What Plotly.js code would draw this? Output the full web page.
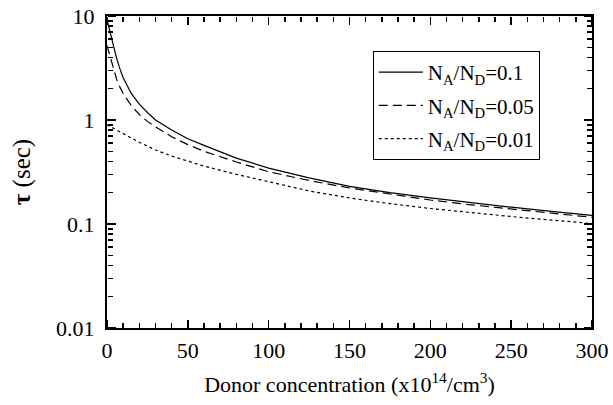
<!DOCTYPE html>
<html>
<head>
<meta charset="utf-8">
<script src="https://cdn.plot.ly/plotly-3.0.1.min.js"></script>
<style>html,body{margin:0;padding:0;background:#fff;}#chart{width:613px;height:405px;}</style>
</head>
<body>
<div id="chart"></div>
<script>
const donorConc = [0, 2, 4, 6, 8, 10, 15, 20, 25, 30, 40, 50, 60, 80, 100, 125, 150, 175, 200, 225, 250, 275, 300];
const tauRatio010 = [9.2, 6.8, 5.0, 3.9, 3.1, 2.55, 1.8, 1.42, 1.18, 1.0, 0.80, 0.66, 0.57, 0.43, 0.345, 0.278, 0.23, 0.2, 0.178, 0.160, 0.145, 0.132, 0.121];
const tauRatio005 = [5.2, 4.0, 3.1, 2.45, 2.07, 1.8, 1.38, 1.13, 0.97, 0.86, 0.69, 0.58, 0.50, 0.395, 0.318, 0.262, 0.222, 0.193, 0.170, 0.153, 0.139, 0.127, 0.116];
const tauRatio001 = [0.9, 0.86, 0.83, 0.80, 0.77, 0.74, 0.67, 0.61, 0.56, 0.515, 0.45, 0.40, 0.36, 0.30, 0.255, 0.208, 0.178, 0.157, 0.141, 0.128, 0.118, 0.109, 0.101];
const seriesNames = ['N<sub>A</sub>/N<sub>D</sub>=0.1', 'N<sub>A</sub>/N<sub>D</sub>=0.05', 'N<sub>A</sub>/N<sub>D</sub>=0.01'];
const yTickVals = [0.01, 0.1, 1, 10];
const yTickText = ['0.01', '0.1', '1', '10'];
const yMinorVals = [0.02, 0.03, 0.04, 0.05, 0.06, 0.07, 0.08, 0.09, 0.2, 0.3, 0.4, 0.5, 0.6, 0.7, 0.8, 0.9, 2, 3, 4, 5, 6, 7, 8, 9];
const xTickVals = [0, 50, 100, 150, 200, 250, 300];
const xRange = [0, 300];
const yRangeLog = [-2, 1];

const font = 'Liberation Serif';
const traces = [
  {x: donorConc, y: tauRatio010, name: seriesNames[0], legendgroup: 'a', mode: 'lines', line: {color: 'black', width: 1.2, dash: 'solid'}},
  {x: donorConc, y: tauRatio005, name: seriesNames[1], legendgroup: 'b', mode: 'lines', line: {color: 'black', width: 1.2, dash: '9px,5px'}},
  {x: donorConc, y: tauRatio001, name: seriesNames[2], legendgroup: 'c', mode: 'lines', line: {color: 'black', width: 1.2, dash: '3px,3px'}},
  // invisible carriers so the tick-only frame axes are drawn
  {x: donorConc, y: tauRatio010, xaxis: 'x2', yaxis: 'y2', mode: 'lines', opacity: 0, showlegend: false, hoverinfo: 'skip', line: {color: 'white', width: 1}},
  {x: donorConc, y: tauRatio010, xaxis: 'x3', yaxis: 'y3', mode: 'lines', opacity: 0, showlegend: false, hoverinfo: 'skip', line: {color: 'white', width: 1}}
];
function tickAxisX(side, pos, overlay) {
  return {overlaying: overlay, anchor: 'free', position: pos, side: side, range: xRange,
    showgrid: false, zeroline: false, showline: false, showticklabels: false,
    ticks: 'outside', ticklen: 8, tickwidth: 1.5, tickcolor: 'black', tickmode: 'array', tickvals: xTickVals,
    minor: {tickmode: 'linear', tick0: 0, dtick: 10, ticks: 'outside', ticklen: 5, tickwidth: 1.5, tickcolor: 'black', showgrid: false}};
}
function tickAxisY(side, pos, overlay) {
  return {overlaying: overlay, anchor: 'free', position: pos, side: side, type: 'log', range: yRangeLog,
    showgrid: false, zeroline: false, showline: false, showticklabels: false,
    ticks: 'outside', ticklen: 8, tickwidth: 1.5, tickcolor: 'black', tickmode: 'array', tickvals: yTickVals,
    minor: {tickmode: 'array', tickvals: yMinorVals, ticks: 'outside', ticklen: 5, tickwidth: 1.5, tickcolor: 'black', showgrid: false}};
}
const layout = {
  width: 613, height: 405,
  margin: {l: 107, r: 21, t: 16, b: 77},
  paper_bgcolor: 'white', plot_bgcolor: 'white',
  font: {family: font, color: 'black', size: 20},
  showlegend: true,
  legend: {x: 0.548, y: 0.888, xanchor: 'left', yanchor: 'top', bgcolor: 'white', bordercolor: 'black', borderwidth: 1,
           font: {family: font, size: 21, color: 'black'}, tracegroupgap: 3, itemwidth: 44},
  xaxis: {
    showgrid: false, zeroline: false, showline: true, linecolor: 'black', linewidth: 2,
    mirror: true, ticks: 'inside', ticklen: 8, tickwidth: 1.5, tickcolor: 'black',
    tickfont: {family: font, size: 22, color: 'black'}, ticklabelstandoff: 2,
    range: xRange, tickmode: 'array', tickvals: xTickVals,
    title: {text: 'Donor concentration (x10<sup>14</sup>/cm<sup>3</sup>)', font: {family: font, size: 22, color: 'black'}, standoff: 14}
  },
  yaxis: {
    showgrid: false, zeroline: false, showline: true, linecolor: 'black', linewidth: 2,
    mirror: true, ticks: 'inside', ticklen: 8, tickwidth: 1.5, tickcolor: 'black',
    tickfont: {family: font, size: 22, color: 'black'}, ticklabelstandoff: 6,
    type: 'log', range: yRangeLog, tickmode: 'array', tickvals: yTickVals, ticktext: yTickText,
    title: {text: '<b>τ</b> (sec)', font: {family: font, size: 25, color: 'black'}, standoff: 18}
  },
  xaxis2: tickAxisX('top', 0, 'x'),
  xaxis3: tickAxisX('bottom', 1, 'x'),
  yaxis2: tickAxisY('right', 0, 'y'),
  yaxis3: tickAxisY('left', 1, 'y')
};
Plotly.newPlot('chart', traces, layout, {displayModeBar: false, staticPlot: true});
</script>
</body>
</html>
